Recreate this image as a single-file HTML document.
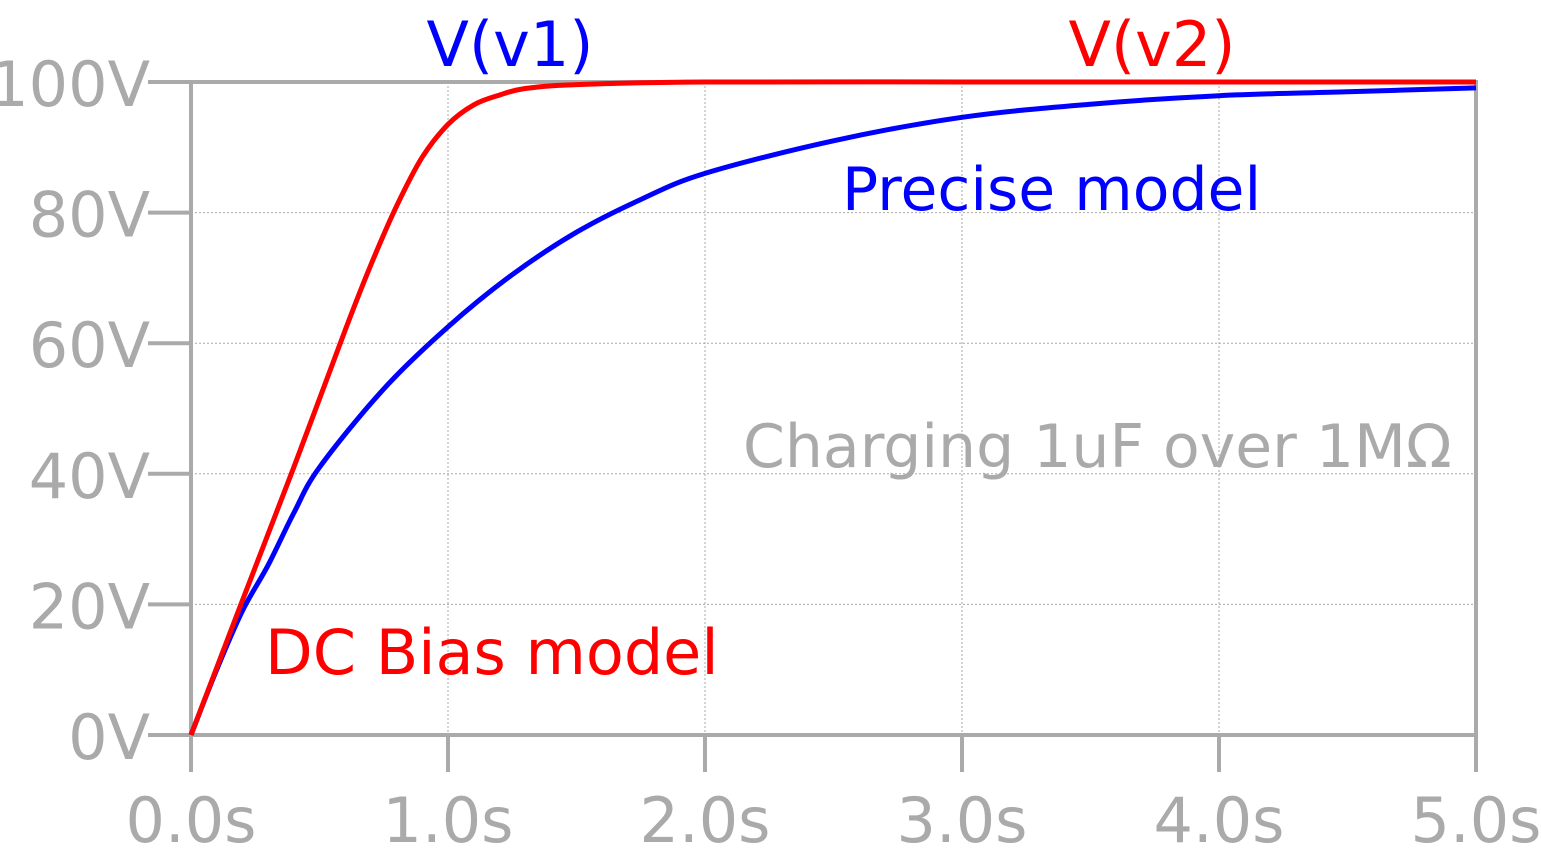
<!DOCTYPE html>
<html><head><meta charset="utf-8"><style>
html,body{margin:0;padding:0;background:#fff;}
svg{display:block;}
text{font-family:"DejaVu Sans","Liberation Sans",sans-serif;}
</style></head><body>
<svg id="chart" width="1541" height="858" viewBox="0 0 1541 858" xmlns="http://www.w3.org/2000/svg">
<g id="grid"></g>
<g id="axes"></g>
<g id="series"></g>
<text x="510" y="66" font-size="62" fill="#0000ff" text-anchor="middle">V(v1)</text>
<text x="1152" y="66" font-size="62" fill="#ff0000" text-anchor="middle">V(v2)</text>
<text x="842" y="210" font-size="60" fill="#0000ff">Precise model</text>
<text x="265" y="674" font-size="62" fill="#ff0000">DC Bias model</text>
<text x="743" y="467" font-size="60" fill="#aaaaaa">Charging 1uF over 1MΩ</text>
</svg>
<script>
const xTicks=[0,1,2,3,4,5];
const xTickLabels=["0.0s","1.0s","2.0s","3.0s","4.0s","5.0s"];
const yTicks=[0,20,40,60,80,100];
const yTickLabels=["0V","20V","40V","60V","80V","100V"];
const blueT=[0,0.1,0.2,0.3,0.4,0.5,0.75,1.0,1.25,1.5,1.75,2.0,2.5,3.0,3.5,4.0,4.5,5.0];
const blueV=[0,10,19,26,34,41,53,62.5,70.5,77,82,86,91,94.6,96.6,97.9,98.5,99.1];
const redT=[0,0.2,0.4,0.6,0.7,0.8,0.9,1.0,1.1,1.2,1.3,1.5,2.0,3.0,4.0,5.0];
const redV=[0,20.6,41,62,72,81,88.5,93.5,96.5,98,99,99.6,100,100,100,100];
const NS="http://www.w3.org/2000/svg";
const X=t=>191+t*(1476-191)/5;
const Y=v=>735-v*(735-82)/100;
function mk(tag,attrs,parent){const e=document.createElementNS(NS,tag);for(const k in attrs)e.setAttribute(k,attrs[k]);document.getElementById(parent).appendChild(e);return e;}
yTicks.forEach((v,i)=>{
  if(v>0){const g=mk('line',{x1:191,x2:1476,y1:Y(v),y2:Y(v),stroke:'#aaa','stroke-width':1,'stroke-dasharray':'2,2'},'grid');
  
  }
  const t=mk('line',{x1:148,x2:191,y1:Y(v),y2:Y(v),stroke:'#aaa','stroke-width':4},'axes');
  
  
  const l=mk('text',{x:150,y:Y(v)+24,'font-size':62,fill:'#aaa','text-anchor':'end'},'axes');
  l.textContent=yTickLabels[i];
  
  
});
xTicks.forEach((t,i)=>{
  if(t>0&&t<5){const g=mk('line',{x1:X(t),x2:X(t),y1:82,y2:735,stroke:'#aaa','stroke-width':1,'stroke-dasharray':'2,2'},'grid');
  
  }
  const k=mk('line',{x1:X(t),x2:X(t),y1:735,y2:772,stroke:'#aaa','stroke-width':4},'axes');
  
  
  const l=mk('text',{x:X(t),y:842,'font-size':62,fill:'#aaa','text-anchor':'middle'},'axes');
  l.textContent=xTickLabels[i];
  
  
});
const frame=mk('rect',{x:191,y:82,width:1285,height:653,fill:'none',stroke:'#aaa','stroke-width':4},'axes');


function path(ts,vs){
  const p=ts.map((t,i)=>[X(t),Y(vs[i])]);
  let d='M'+p[0][0].toFixed(1)+','+p[0][1].toFixed(1);
  for(let i=0;i<p.length-1;i++){
    const p0=p[Math.max(0,i-1)],p1=p[i],p2=p[i+1],p3=p[Math.min(p.length-1,i+2)];
    const c1x=p1[0]+(p2[0]-p0[0])/6,c1y=p1[1]+(p2[1]-p0[1])/6;
    const c2x=p2[0]-(p3[0]-p1[0])/6,c2y=p2[1]-(p3[1]-p1[1])/6;
    d+=' C'+c1x.toFixed(1)+','+c1y.toFixed(1)+' '+c2x.toFixed(1)+','+c2y.toFixed(1)+' '+p2[0].toFixed(1)+','+p2[1].toFixed(1);
  }
  return d;
}
const b=mk('path',{d:path(blueT,blueV),fill:'none',stroke:'#0000ff','stroke-width':5,'stroke-linejoin':'round'},'series');


const r=mk('path',{d:path(redT,redV),fill:'none',stroke:'#ff0000','stroke-width':5,'stroke-linejoin':'round'},'series');


</script>
</body></html>
